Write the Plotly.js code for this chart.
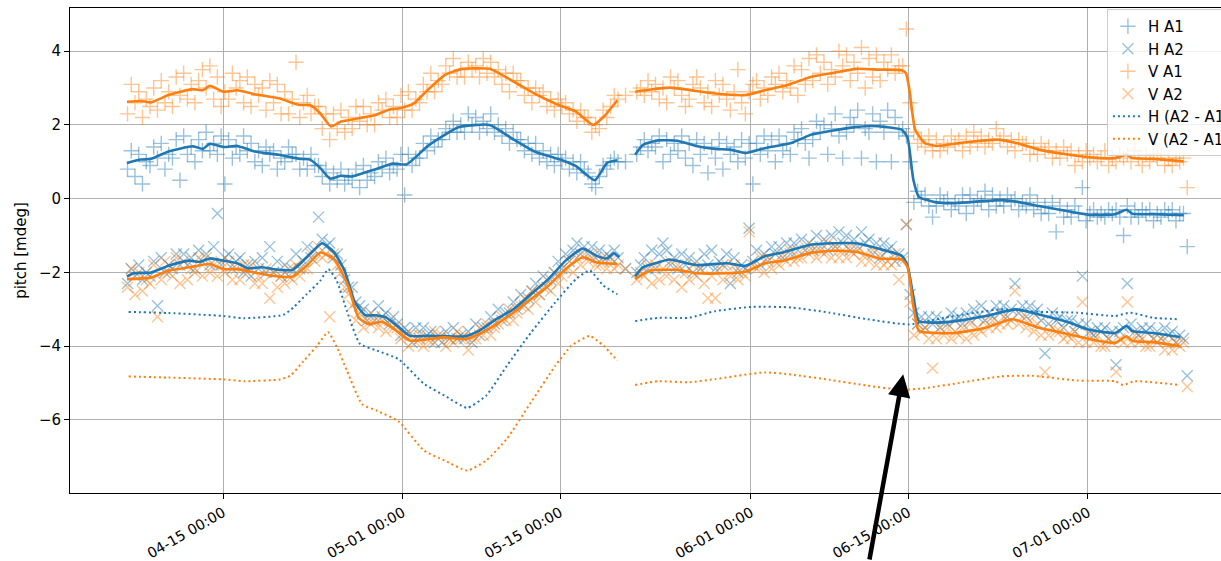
<!DOCTYPE html>
<html><head><meta charset="utf-8">
<script src="https://cdn.plot.ly/plotly-3.0.1.min.js"></script>
<style>html,body{margin:0;padding:0;overflow:hidden;background:#fff}#chart{width:1260px;height:561px}</style>
</head><body><div id="chart"></div><script>
// ---- data (day offsets relative to 2021-04-15 00:00) ----
const baseDate = Date.UTC(2021, 3, 15);
const sampleStartDay = -8.5;      // first sample: Apr 06 12:00
const sampleStepDay = 1 / 3;      // one sample every 8 hours

// raw measurements, three samples per day (rows = days from Apr 06)
const hA1 = [
 0.8,1.3,0.6, 1.2,0.4,1.0, 0.9,1.4,1.1, 1.5,0.8,1.2, 1.1,1.6,0.5, 1.7,1.2,1.4, 1.0,1.6,1.3, 1.8,1.3,1.5, 1.2,1.7,0.4, 1.6,1.1,1.4,
 1.2,1.7,1.3, 1.5,1.0,1.3, 0.9,1.4,1.2, 1.3,0.8,1.1, 1.0,1.4,1.2, 1.2,0.8,1.1, 0.8,1.2,0.9, 0.9,0.6,0.8, 0.4,0.7,0.5, 0.8,0.4,0.6,
 0.5,0.8,0.3, 0.9,0.5,0.7, 0.6,1.0,0.8, 1.1,0.7,0.9, 0.8,1.2,0.1, 1.2,0.9,1.1, 1.1,1.5,1.3, 1.7,1.4,1.6, 1.6,1.9,1.8, 2.1,1.8,2.0,
 1.8,2.3,2.0, 2.2,1.8,2.1, 1.9,2.3,1.8, 2.0,1.7,1.9, 1.5,1.8,1.6, 1.6,1.3,1.5, 1.2,1.5,1.1, 1.3,1.0,1.2, 0.9,1.2,1.0, 1.1,0.8,1.0,
 0.7,1.0,0.8, 0.7,0.4,0.3, 0.6,0.9,0.8, 1.0,1.1,1.0, null,1.0,null, null,1.2,1.4, 1.6,1.3,1.5, 1.4,1.7,1.0, 1.6,1.2,1.5, 1.3,1.7,1.1,
 1.5,0.9,1.6, 1.2,1.5,0.7, 1.4,1.1,1.6, 0.8,1.5,1.2, 1.4,1.0,1.6, 1.1,1.5,0.4, 1.5,1.2,1.7, 1.3,1.6,1.0, 1.7,1.3,1.5, 1.2,1.8,1.6,
 1.9,1.5,1.1, 1.6,2.1,1.8, 2.0,1.2,1.9, 2.3,1.7,1.1, 1.8,2.2,2.0, 2.4,1.1,1.9, 1.8,2.3,1.0, 2.1,1.8,2.4, 1.0,2.2,1.8, 1.9,1.7,1.0,
 -0.1,0.2,0.0, 0.1,-0.2,-0.5, -0.2,0.1,-0.1, 0.0,-0.3,-0.1, -0.2,0.1,-0.4, 0.1,-0.2,0.0, -0.1,0.2,-0.3, 0.1,-0.2,0.0, -0.2,0.1,-0.1, 0.0,-0.3,-0.1,
 -0.2,0.1,-0.3, -0.1,-0.4,-0.2, -0.4,-0.1,-0.9, -0.2,-0.5,-0.3, -0.5,-0.2,-0.4, 0.3,-0.6,-0.4, -0.3,-0.5,-0.4, -0.5,-0.3,-0.4, -0.3,-0.5,-1.0, -0.2,-0.5,-0.3,
 -0.5,-0.3,-0.4, -0.3,-0.6,-0.4, -0.5,-0.3,-0.4, -0.3,-0.6,-0.4, -0.4,-1.3,null
];
const hA2 = [
 -2.3,-1.9,-2.1, -1.8,-2.2,-2.0, -2.1,-1.7,-2.9, -1.6,-2.0,-1.8, -1.9,-1.5,-1.8, -1.5,-1.8,-1.6, -1.9,-1.4,-1.7, -1.5,-1.8,-1.3, -0.4,-1.8,-1.6, -1.5,-1.9,-1.7,
 -1.6,-2.0,-1.8, -2.1,-1.7,-1.9, -1.6,-2.0,-1.3, -2.0,-1.7,-2.1, -1.8,-2.1,-1.9, -1.5,-1.9,-1.7, -1.3,-1.6,-1.4, -0.5,-1.1,-1.3, -1.2,-1.6,-1.5, -1.8,-2.2,-2.4,
 -2.4,-2.8,-2.9, -3.0,-3.3,-3.1, -3.3,-2.9,-3.2, -3.1,-3.4,-3.2, -3.4,-3.7,-3.5, -3.6,-3.9,-3.5, -3.8,-3.5,-3.7, -3.6,-3.9,-3.7, -3.9,-3.6,-3.8, -3.5,-3.8,-3.7,
 -3.8,-3.6,-3.9, -3.4,-3.7,-3.5, -3.5,-3.2,-3.4, -3.0,-3.3,-3.1, -3.1,-2.8,-3.0, -2.6,-2.9,-2.7, -2.5,-2.3,-2.6, -2.1,-2.4,-2.2, -2.0,-1.7,-1.9, -1.5,-1.7,-1.4,
 -1.2,-1.5,-1.3, -1.5,-1.3,-1.6, -1.4,-1.7,-1.5, -1.6,-1.4,-1.6, null,-1.9,null, null,-2.0,-1.8, -1.6,-1.9,-1.4, -1.9,-1.5,-1.2, -1.4,-1.8,-1.6, -1.9,-1.5,-1.8,
 -1.6,-2.0,-1.7, -1.9,-1.5,-1.8, -1.4,-1.9,-1.7, -1.8,-1.5,-2.3, -1.6,-2.0,-1.8, -1.9,-0.8,-1.7, -1.4,-1.8,-1.5, -1.7,-1.3,-1.5, -1.3,-1.6,-1.2, -1.5,-1.2,-1.4,
 -1.1,-1.4,-1.2, -1.4,-1.0,-1.3, -1.1,-1.4,-1.0, -1.3,-0.9,-1.2, -1.0,-1.4,-1.1, -1.3,-0.9,-1.2, -1.1,-1.5,-1.2, -1.6,-1.2,-1.4, -1.3,-1.7,-1.5, -1.6,-0.7,-2.6,
 -3.1,-3.4,-3.2, -3.5,-3.2,-3.4, -3.2,-3.5,-3.3, -3.4,-3.1,-3.3, -3.2,-3.4,-3.1, -3.3,-3.0,-3.2, -2.9,-3.3,-3.1, -3.2,-2.9,-3.1, -2.9,-3.2,-3.0, -2.3,-3.1,-2.9,
 -3.2,-2.9,-3.1, -3.0,-3.3,-4.2, -3.4,-3.1,-3.3, -3.2,-3.5,-3.3, -3.3,-3.6,-3.4, -2.1,-3.4,-3.6, -3.7,-3.5,-3.6, -3.5,-3.8,-3.6, -4.5,-3.6,-3.5, -2.3,-3.4,-3.6,
 -3.7,-3.5,-3.6, -3.5,-3.8,-3.6, -3.8,-3.5,-3.7, -3.6,-3.9,-3.7, -3.8,-4.8,null
];
const vA1 = [
 2.3,3.1,2.6, 2.9,2.2,2.7, 2.5,3.0,2.4, 3.2,2.6,2.9, 2.5,3.3,2.8, 3.4,2.7,3.1, 2.6,3.2,3.5, 3.0,3.6,2.7, 3.3,2.5,2.9, 2.7,3.4,3.0,
 3.2,2.6,3.3, 2.5,3.1,2.8, 3.0,2.4,3.2, 2.6,3.1,2.3, 2.9,2.3,2.7, 3.7,2.2,2.6, 2.8,2.3,2.5, 2.5,1.9,2.3, 1.6,2.3,1.9, 2.4,1.8,2.2,
 1.9,2.5,2.1, 2.5,2.0,2.3, 2.0,2.6,2.4, 2.7,2.2,2.5, 2.2,2.8,2.4, 2.9,2.4,2.7, 2.6,3.1,2.9, 3.4,2.9,3.2, 3.1,3.6,3.4, 3.8,3.3,3.5,
 3.3,3.7,3.5, 3.6,3.3,3.8, 3.4,3.7,3.3, 3.5,3.1,3.4, 2.9,3.4,3.2, 3.2,2.8,3.0, 2.6,3.0,2.8, 2.9,2.5,2.7, 2.4,2.7,2.5, 2.6,2.3,2.4,
 2.1,2.4,2.2, 2.2,1.8,2.0, 1.9,2.4,2.2, 2.5,2.8,2.7, null,2.8,null, null,2.9,3.0, 2.8,3.2,2.9, 3.1,2.7,3.0, 2.6,3.3,3.0, 3.2,2.8,2.5,
 2.7,3.1,3.3, 3.0,2.6,2.9, 2.5,3.2,2.8, 3.1,2.7,2.4, 2.9,3.5,2.6, 2.3,2.9,3.1, 3.2,2.7,3.0, 2.8,3.3,3.1, 3.4,2.9,3.2, 3.0,3.6,2.8,
 3.5,3.1,3.8, 3.2,3.9,3.4, 3.7,3.1,3.5, 3.3,4.0,3.6, 3.9,3.2,3.7, 3.4,4.1,3.0, 3.8,3.3,3.9, 3.2,3.7,3.5, 3.9,3.4,3.6, 3.6,4.6,2.6,
 1.8,1.5,1.6, 1.4,1.7,1.3, 1.6,1.3,1.5, 1.4,1.7,1.5, 1.6,1.3,1.7, 1.4,1.8,1.5, 1.7,1.4,1.6, 1.5,1.9,1.6, 1.7,1.4,1.6, 1.3,1.6,1.5,
 1.5,1.2,1.4, 1.2,1.5,1.3, 1.4,1.1,1.3, 1.1,1.4,1.2, 1.3,0.9,1.2, 1.0,1.3,1.1, 1.2,1.0,1.1, 1.3,0.9,1.1, 1.0,1.2,1.1, 1.2,1.0,1.3,
 1.1,0.9,1.2, 1.0,1.2,1.1, 1.2,0.9,1.1, 0.9,1.1,1.0, 1.1,0.3,null
];
const vA2 = [
 -2.4,-1.9,-2.6, -2.0,-2.5,-2.2, -2.3,-1.8,-3.2, -2.2,-1.7,-2.0, -2.1,-1.6,-2.3, -1.7,-2.2,-1.9, -2.0,-1.6,-2.1, -1.6,-2.0,-1.8, -2.1,-1.7,-2.0, -1.7,-2.2,-1.9,
 -2.2,-1.8,-2.0, -1.8,-2.3,-2.1, -2.3,-1.9,-2.7, -2.0,-2.4,-2.1, -2.3,-1.9,-2.2, -1.8,-2.1,-1.9, -1.9,-1.5,-1.7, -1.3,-1.6,-1.5, -3.2,-1.5,-1.8, -2.0,-2.4,-2.6,
 -2.9,-3.3,-3.1, -3.5,-3.2,-3.4, -3.2,-3.5,-3.3, -3.6,-3.3,-3.5, -3.5,-3.8,-3.7, -4.0,-3.7,-3.9, -3.7,-4.0,-3.8, -3.9,-3.6,-3.8, -3.7,-4.0,-3.8, -3.9,-3.6,-3.8,
 -3.7,-4.1,-3.8, -3.8,-3.5,-3.7, -3.4,-3.7,-3.5, -3.4,-3.2,-3.3, -3.0,-3.3,-3.1, -2.9,-2.7,-3.0, -2.5,-2.8,-2.6, -2.4,-2.2,-2.5, -2.0,-2.3,-2.1, -1.9,-1.7,-2.0,
 -1.6,-1.8,-1.5, -1.7,-1.5,-1.8, -1.8,-1.6,-1.9, -1.7,-1.9,-1.8, null,-1.9,null, null,-2.2,-2.0, -2.1,-1.8,-2.3, -1.8,-2.2,-1.9, -2.1,-1.7,-2.2, -1.8,-2.4,-2.0,
 -2.2,-1.8,-2.1, -1.9,-2.3,-2.7, -2.1,-2.7,-1.9, -2.2,-1.8,-2.1, -1.8,-2.2,-2.0, -2.1,-0.9,-1.8, -1.9,-1.6,-2.0, -1.6,-1.9,-1.7, -1.8,-1.5,-1.7, -1.4,-1.7,-1.6,
 -1.6,-1.3,-1.5, -1.3,-1.6,-1.4, -1.5,-1.2,-1.6, -1.3,-1.6,-1.4, -1.6,-1.3,-1.5, -1.4,-1.7,-1.5, -1.7,-1.4,-1.8, -1.5,-1.8,-1.7, -1.8,-1.5,-2.2, -1.7,-0.7,-2.8,
 -3.7,-3.4,-3.6, -3.5,-3.8,-4.6, -3.8,-3.5,-3.7, -3.5,-3.8,-3.6, -3.7,-3.5,-3.8, -3.4,-3.7,-3.5, -3.6,-3.3,-3.5, -3.3,-3.5,-3.4, -3.2,-3.4,-3.3, -2.5,-3.4,-3.2,
 -3.5,-3.3,-3.6, -3.4,-3.7,-4.7, -3.7,-3.5,-3.6, -3.6,-3.8,-3.7, -3.8,-3.6,-3.9, -2.8,-3.9,-3.7, -3.9,-3.7,-4.0, -4.0,-3.8,-3.9, -4.7,-3.8,-3.9, -2.8,-3.9,-3.7,
 -3.9,-3.8,-4.0, -4.0,-3.8,-3.9, -3.8,-4.1,-3.9, -4.1,-3.9,-4.0, -3.9,-5.1,null
];

// smoothed series: [day offset, value]; null value = data gap
const hA1Smooth = [[-8.55,0.97],[-7.32,1.06],[-6.40,1.08],[-4.86,1.28],[-2.71,1.42],[-1.79,1.35],[-1.18,1.49],[0.05,1.40],[1.29,1.43],[2.82,1.28],[4.98,1.19],[6.82,1.08],[7.74,1.06],[8.67,0.83],[9.50,0.55],[10.51,0.62],[11.44,0.60],[13.58,0.80],[15.12,0.95],[16.35,0.93],[18.20,1.42],[19.73,1.73],[20.96,1.94],[23.73,2.00],[25.89,1.60],[27.73,1.28],[30.19,1.04],[31.42,0.88],[33.11,0.50],[34.19,0.97],[35.11,1.04],
 [35.9,null],
 [36.69,1.19],[37.38,1.46],[38.73,1.58],[40.42,1.57],[42.12,1.43],[43.81,1.35],[45.17,1.33],[46.53,1.24],[48.23,1.37],[50.60,1.51],[52.30,1.73],[54.33,1.85],[56.36,1.94],[57.72,1.97],[59.08,1.94],[60.43,1.87],[60.94,1.65],[61.45,0.52],[61.95,0.05],[63.49,-0.10],[65.18,-0.12],[67.89,-0.06],[69.25,-0.04],[70.61,-0.08],[72.64,-0.20],[75.35,-0.35],[77.05,-0.44],[79.42,-0.42],[80.44,-0.30],[80.95,-0.41],[82.81,-0.42],[85.53,-0.45]];
const hA2Smooth = [[-8.55,-2.11],[-7.94,-2.02],[-6.40,-2.00],[-4.86,-1.82],[-3.02,-1.68],[-2.09,-1.71],[-1.18,-1.62],[0.05,-1.68],[1.29,-1.75],[2.21,-1.89],[3.44,-1.86],[4.98,-1.93],[6.20,-1.93],[7.44,-1.59],[8.82,-1.21],[9.90,-1.46],[10.82,-1.95],[11.74,-2.81],[12.67,-3.16],[13.58,-3.16],[14.51,-3.22],[15.43,-3.43],[16.66,-3.72],[18.20,-3.72],[19.73,-3.73],[21.58,-3.73],[22.81,-3.58],[24.35,-3.26],[25.89,-2.99],[27.42,-2.59],[28.97,-2.18],[30.50,-1.68],[32.04,-1.35],[33.27,-1.55],[34.19,-1.62],[34.80,-1.48],[35.27,-1.59],
 [35.9,null],
 [36.69,-2.11],[37.38,-1.86],[38.73,-1.73],[39.75,-1.65],[42.12,-1.80],[44.84,-1.75],[46.53,-1.82],[48.23,-1.56],[49.92,-1.45],[52.30,-1.25],[54.33,-1.21],[56.36,-1.21],[58.39,-1.36],[60.43,-1.55],[60.94,-1.82],[61.45,-2.64],[61.95,-3.32],[63.49,-3.36],[65.18,-3.32],[67.89,-3.18],[70.61,-3.00],[72.64,-3.14],[75.35,-3.36],[77.05,-3.55],[79.42,-3.64],[80.44,-3.45],[80.95,-3.59],[82.81,-3.64],[85.19,-3.75]];
const vA1Smooth = [[-8.55,2.63],[-7.32,2.65],[-6.40,2.61],[-4.86,2.81],[-2.71,2.97],[-1.79,2.94],[-1.18,3.06],[0.05,2.90],[1.29,2.94],[2.82,2.83],[4.98,2.72],[6.82,2.54],[7.74,2.54],[8.67,2.31],[9.59,1.96],[10.51,2.09],[12.05,2.18],[13.58,2.27],[14.82,2.42],[15.74,2.45],[16.97,2.58],[18.20,2.94],[19.73,3.35],[21.27,3.52],[23.73,3.52],[25.89,3.17],[27.73,2.85],[29.88,2.54],[31.42,2.36],[32.96,2.00],[33.88,2.22],[35.11,2.67],
 [35.9,null],
 [36.69,2.90],[38.05,2.96],[39.75,3.01],[42.12,2.92],[43.81,2.85],[46.53,2.81],[48.23,2.94],[50.26,3.08],[52.30,3.30],[54.33,3.41],[56.36,3.52],[58.39,3.50],[60.43,3.48],[60.80,3.40],[61.11,2.94],[61.62,1.87],[62.47,1.51],[63.49,1.43],[65.86,1.52],[68.91,1.60],[70.61,1.51],[72.64,1.33],[75.35,1.19],[78.07,1.10],[79.42,1.10],[80.44,1.19],[80.95,1.10],[82.81,1.08],[85.53,1.01]];
const vA2Smooth = [[-8.55,-2.18],[-6.40,-2.14],[-4.86,-1.95],[-3.02,-1.86],[-1.18,-1.77],[0.05,-1.91],[1.29,-1.91],[2.82,-2.00],[4.36,-2.09],[6.20,-2.11],[7.44,-1.82],[8.67,-1.46],[9.90,-1.64],[11.13,-2.36],[12.05,-3.22],[12.97,-3.40],[14.20,-3.34],[15.43,-3.58],[16.66,-3.85],[18.20,-3.81],[19.73,-3.76],[21.58,-3.81],[22.81,-3.67],[24.35,-3.40],[25.89,-3.08],[27.42,-2.72],[28.97,-2.36],[30.50,-1.91],[32.04,-1.59],[33.27,-1.73],[35.11,-1.77],
 [35.9,null],
 [36.69,-2.18],[38.05,-1.95],[40.42,-1.93],[42.12,-2.02],[44.84,-2.02],[46.53,-1.98],[48.23,-1.75],[49.92,-1.68],[52.30,-1.47],[54.33,-1.41],[56.36,-1.44],[58.39,-1.62],[60.43,-1.65],[60.94,-1.86],[61.45,-2.91],[61.95,-3.59],[63.49,-3.64],[65.18,-3.64],[67.89,-3.50],[70.27,-3.27],[72.64,-3.50],[75.35,-3.68],[77.05,-3.80],[79.42,-3.91],[80.44,-3.73],[80.95,-3.86],[82.81,-3.89],[85.19,-4.00]];
const hDiff = [[-8.40,-3.07],[-4.86,-3.10],[0.05,-3.18],[1.84,-3.24],[5.37,-3.15],[6.26,-2.95],[7.45,-2.59],[8.64,-2.23],[9.38,-1.91],[10.13,-2.23],[11.02,-3.04],[12.20,-3.94],[13.71,-4.12],[15.63,-4.35],[17.89,-5.02],[19.73,-5.34],[21.74,-5.67],[23.43,-5.34],[25.27,-4.53],[27.42,-3.63],[29.58,-2.81],[31.42,-2.18],[32.65,-1.95],[33.88,-2.36],[35.11,-2.59],
 [35.9,null],
 [36.69,-3.32],[38.73,-3.23],[41.45,-3.23],[43.81,-3.05],[47.20,-2.93],[50.60,-2.95],[53.99,-3.09],[57.38,-3.27],[61.11,-3.41],[64.16,-3.23],[69.25,-3.00],[72.64,-3.07],[76.03,-3.09],[79.42,-3.18],[80.78,-3.09],[82.81,-3.23],[85.19,-3.27]];
const vDiff = [[-8.40,-4.82],[-4.86,-4.85],[0.05,-4.90],[1.90,-4.95],[5.10,-4.90],[5.99,-4.80],[7.18,-4.40],[8.37,-3.99],[9.35,-3.62],[10.15,-4.03],[11.04,-4.67],[12.38,-5.57],[13.71,-5.75],[15.63,-6.04],[17.89,-6.83],[19.73,-7.10],[21.74,-7.37],[23.43,-7.10],[25.27,-6.51],[27.42,-5.52],[29.58,-4.53],[31.00,-3.99],[32.65,-3.72],[33.88,-3.99],[35.11,-4.39],
 [35.9,null],
 [36.69,-5.05],[38.73,-4.95],[41.45,-4.98],[43.81,-4.89],[48.23,-4.71],[50.60,-4.77],[53.99,-4.91],[57.38,-5.07],[60.43,-5.18],[62.47,-5.14],[65.86,-4.98],[69.25,-4.82],[71.96,-4.80],[76.03,-4.93],[79.42,-4.95],[80.11,-5.05],[81.12,-4.95],[85.19,-5.05]];

const tickDates = ['2021-04-15','2021-05-01','2021-05-15','2021-06-01','2021-06-15','2021-07-01'];
const tickLabels = ['04-15 00:00','05-01 00:00','05-15 00:00','06-01 00:00','06-15 00:00','07-01 00:00'];
const yTicks = [-6,-4,-2,0,2,4];
const arrowTipDay = 60.55, arrowTipValue = -4.76;

// ---- helpers ----
function toDate(d){ return new Date(baseDate + d*864e5).toISOString().slice(0,19).replace('T',' '); }
function sampleTimes(arr){ return arr.map((_,k)=>toDate(sampleStartDay + k*sampleStepDay)); }
function pairsX(p){ return p.map(q=>toDate(q[0])); }
function pairsY(p){ return p.map(q=>q[1]); }

const BLUE='#1f77b4', ORANGE='#ff7f0e';
const BLUE_A='rgba(31,119,180,0.45)', ORANGE_A='rgba(255,127,14,0.45)';

function pts(name, vals, symbol, col){
  return {type:'scatter', mode:'markers', name:name, x:sampleTimes(vals), y:vals,
    marker:{symbol:symbol, size:11, color:col, line:{color:col, width:1.4}}};
}
function smooth(p, col){
  return {type:'scatter', mode:'lines', x:pairsX(p), y:pairsY(p), showlegend:false, connectgaps:false,
    line:{color:col, width:2.6, shape:'spline', smoothing:0.5}, hoverinfo:'skip'};
}
function dotted(name, p, col){
  return {type:'scatter', mode:'lines', name:name, x:pairsX(p), y:pairsY(p), connectgaps:false,
    line:{color:col, width:2, dash:'2px,3px', shape:'spline', smoothing:0.5}};
}

const traces = [
  pts('H A1', hA1, 'cross-thin', BLUE_A),
  pts('H A2', hA2, 'x-thin', BLUE_A),
  pts('V A1', vA1, 'cross-thin', ORANGE_A),
  pts('V A2', vA2, 'x-thin', ORANGE_A),
  smooth(hA1Smooth, BLUE),
  smooth(hA2Smooth, BLUE),
  smooth(vA1Smooth, ORANGE),
  smooth(vA2Smooth, ORANGE),
  dotted('H (A2 - A1)', hDiff, BLUE),
  dotted('V (A2 - A1)', vDiff, ORANGE)
];

const axisCommon = {showgrid:true, gridcolor:'#b0b0b0', gridwidth:1, zeroline:false,
  showline:true, mirror:true, linecolor:'#000', linewidth:1,
  ticks:'outside', ticklen:5, tickwidth:1, tickcolor:'#000'};

const layout = {
  width:1260, height:561,
  margin:{l:70, r:17, t:8, b:68},
  paper_bgcolor:'#fff', plot_bgcolor:'#fff',
  font:{family:'DejaVu Sans', size:15, color:'#000'},
  showlegend:true,
  legend:{x:0.884, y:0.998, xanchor:'left', yanchor:'top', bgcolor:'rgba(255,255,255,0.8)',
    bordercolor:'#cccccc', borderwidth:1, font:{family:'DejaVu Sans', size:15, color:'#000'}},
  xaxis:Object.assign({}, axisCommon, {type:'date', range:[toDate(-13.62), toDate(90.80)],
    tickmode:'array', tickvals:tickDates, ticktext:tickLabels, tickangle:-30,
    tickfont:{family:'DejaVu Sans', size:14.3, color:'#000'}}),
  yaxis:Object.assign({}, axisCommon, {range:[-7.98, 5.17], tickmode:'array', tickvals:yTicks,
    tickfont:{family:'DejaVu Sans', size:15, color:'#000'},
    title:{text:'pitch [mdeg]', font:{family:'DejaVu Sans', size:15, color:'#000'}, standoff:8}}),
  annotations:[{x:toDate(arrowTipDay), y:arrowTipValue, xref:'x', yref:'y', text:'', showarrow:true,
    arrowhead:2, arrowsize:1.0, arrowwidth:4.5, arrowcolor:'#000', ax:-34, ay:200}]
};

Plotly.newPlot('chart', traces, layout, {displayModeBar:false, staticPlot:true});
</script></body></html>
